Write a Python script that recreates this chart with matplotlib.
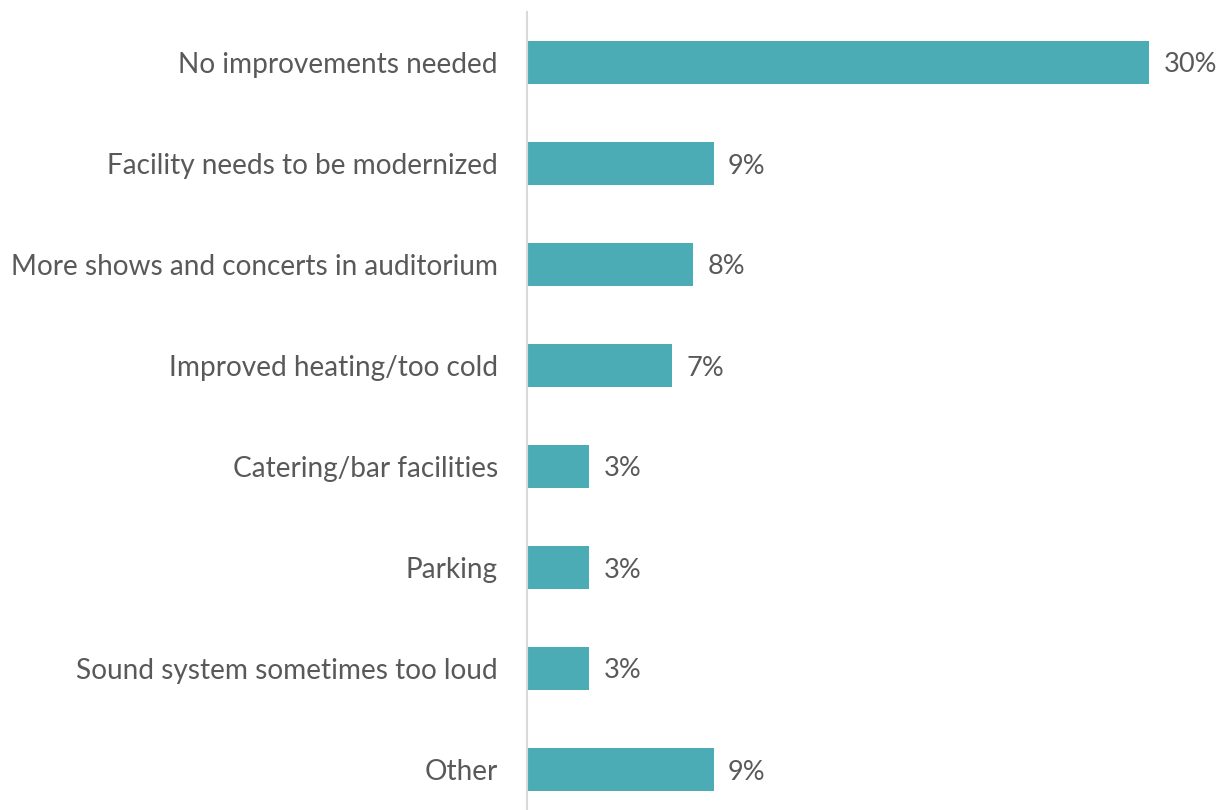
import matplotlib
matplotlib.use("Agg")
import matplotlib.pyplot as plt

# survey answers, top to bottom
categories = [
    "No improvements needed",
    "Facility needs to be modernized",
    "More shows and concerts in auditorium",
    "Improved heating/too cold",
    "Catering/bar facilities",
    "Parking",
    "Sound system sometimes too loud",
    "Other",
]
percent = [30, 9, 8, 7, 3, 3, 3, 9]

bar_color = "#4BACB6"
text_color = "#595959"

plt.rcParams["font.family"] = ["Lato", "DejaVu Sans"]

fig = plt.figure(figsize=(12.19, 8.10), dpi=100)
ax = fig.add_axes([527 / 1219, -10 / 810, 692 / 1219, 808 / 810])

ypos = list(range(len(categories)))
ax.barh(ypos, percent, height=0.43, color=bar_color)
ax.set_ylim(len(categories) - 0.5, -0.5)
ax.set_xlim(0, 692 / 20.73)

for y, v in zip(ypos, percent):
    ax.text(v + 0.7, y, f"{v}%", va="center_baseline", ha="left",
            fontsize=19.5, color=text_color)

ax.set_yticks(ypos)
ax.set_yticklabels(categories, fontsize=20.2, color=text_color)
ax.tick_params(axis="y", length=0, pad=21)
ax.set_xticks([])

for side in ["top", "right", "bottom"]:
    ax.spines[side].set_visible(False)
ax.spines["left"].set_color("#d9d9d9")
ax.spines["left"].set_linewidth(1.5)

fig.savefig("out.png", dpi=100)
